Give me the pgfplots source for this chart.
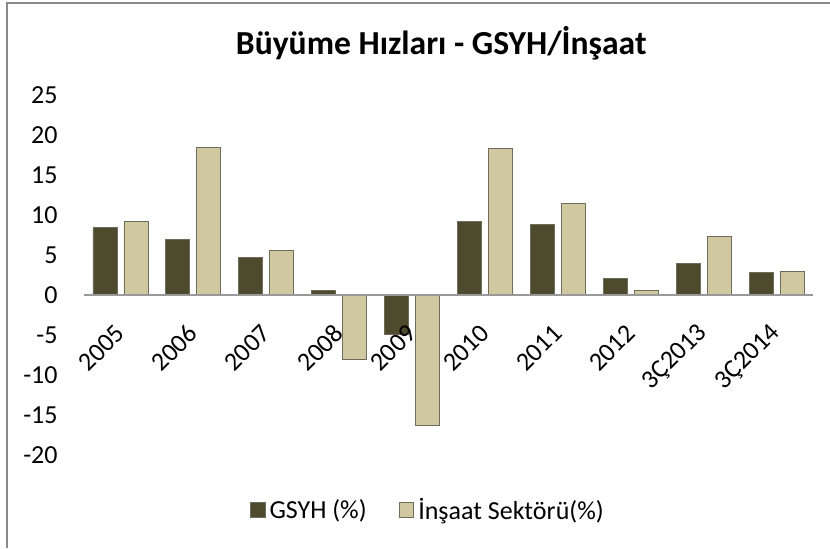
\documentclass[border=0pt]{standalone}
\usepackage{pgfplots}
\pgfplotsset{compat=1.18}
\usepackage{fontspec}
\setmainfont{Carlito}
\definecolor{darkol}{RGB}{77,74,46}
\definecolor{lightol}{RGB}{207,200,160}
\definecolor{edgeg}{RGB}{110,108,90}
\definecolor{frameg}{RGB}{137,137,137}
\begin{document}
\begin{tikzpicture}
\path[use as bounding box] (-42pt,-46.5pt) rectangle (373pt,227.5pt);
\draw[frameg, line width=1pt] (-38.6pt,-46.5pt) -- (-38.6pt,226.2pt) -- (373pt,226.2pt);
\begin{axis}[
  at={(0pt,0pt)}, anchor=south west,
  scale only axis,
  width=364.5pt, height=180pt,
  axis on top,
  ybar=3.5pt, bar width=12pt,
  xmin=-0.5, xmax=9.5,
  ymin=-20, ymax=25,
  ytick={-20,-15,...,25},
  xtick={0,...,9},
  xticklabels={2005,2006,2007,2008,2009,2010,2011,2012,3Ç2013,3Ç2014},
  axis x line*=middle,
  axis y line*=left,
  y axis line style={draw=none},
  x axis line style={draw=gray!80, line width=0.8pt},
  hide obscured x ticks=false,
  hide obscured y ticks=false,
  major tick length=0pt,
  tick style={draw=none},
  /pgf/number format/assume math mode=true,
  yticklabel style={font=\fontsize{13}{15}\selectfont, anchor=east, inner sep=0pt, xshift=-13pt},
  xticklabel style={font=\fontsize{13}{15}\selectfont, inner sep=0pt, anchor=east, yshift=-17pt, rotate=45},
  title={\textbf{Büyüme Hızları - GSYH/İnşaat}},
  title style={font=\fontsize{16.8}{19}\selectfont, at={(0.49,1)}, anchor=center, yshift=20pt},
  legend style={at={(0.473,-0.153)}, anchor=center, draw=none, legend columns=2,
    font=\fontsize{13}{15}\selectfont,
    /tikz/every even column/.append style={column sep=14pt}},
  legend image code/.code={\draw[#1, draw=edgeg] (0cm,-0.13cm) rectangle (0.26cm,0.13cm);},
]
\addplot[fill=darkol, draw=edgeg, line width=0.4pt] coordinates {
(0,8.4) (1,6.9) (2,4.7) (3,0.6) (4,-4.9) (5,9.2) (6,8.8) (7,2.1) (8,4.0) (9,2.8)};
\addplot[fill=lightol, draw=edgeg, line width=0.4pt] coordinates {
(0,9.2) (1,18.5) (2,5.6) (3,-8.1) (4,-16.3) (5,18.3) (6,11.5) (7,0.6) (8,7.3) (9,2.9)};
\legend{GSYH (\%), İnşaat Sektörü(\%)}
\end{axis}
\end{tikzpicture}
\end{document}
